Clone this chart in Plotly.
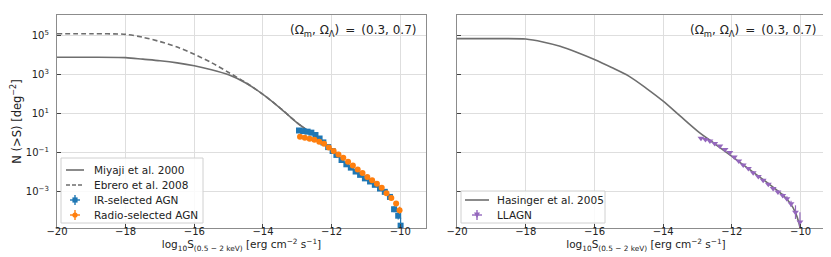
import numpy as np
import plotly.graph_objects as go

# ---------------- data (log10 values) ----------------
miyaji_x = [-20, -19, -18, -17.5, -17, -16.5, -16, -15.5, -15, -14.5, -14, -13.5, -13, -12.7]
miyaji_logN = [3.88, 3.88, 3.86, 3.78, 3.70, 3.59, 3.44, 3.24, 2.98, 2.56, 1.98, 1.28, 0.52, 0.13]

ebrero_x = [-20, -19, -18, -17.5, -17, -16.5, -16, -15.5, -15, -14.5, -14, -13.5, -13, -12.7]
ebrero_logN = [5.08, 5.08, 5.05, 4.90, 4.68, 4.40, 4.03, 3.60, 3.10, 2.58, 1.98, 1.28, 0.52, 0.13]

ir_x = [-12.95, -12.83, -12.70, -12.59, -12.47, -12.35, -12.24, -12.10, -11.97, -11.86,
        -11.71, -11.57, -11.44, -11.30, -11.17, -11.03, -10.88, -10.74, -10.59, -10.45,
        -10.30, -10.18, -10.06, -9.99]
ir_logN = [0.13, 0.10, 0.07, 0.02, -0.10, -0.28, -0.48, -0.72, -0.92, -1.12,
           -1.38, -1.60, -1.77, -1.97, -2.14, -2.32, -2.48, -2.65, -2.84, -3.01,
           -3.27, -3.90, -4.23, -4.74]
ir_err = [0.03, 0.03, 0.03, 0.03, 0.03, 0.03, 0.03, 0.04, 0.04, 0.04,
          0.05, 0.05, 0.05, 0.06, 0.06, 0.06, 0.07, 0.08, 0.08, 0.09,
          0.10, 0.15, 0.20, 0.40]

radio_x = [-12.92, -12.78, -12.64, -12.50, -12.36, -12.22, -12.08, -11.94, -11.80, -11.66,
           -11.52, -11.38, -11.24, -11.10, -10.96, -10.82, -10.68, -10.54, -10.40, -10.26,
           -10.12, -10.02]
radio_logN = [-0.19, -0.24, -0.29, -0.35, -0.44, -0.55, -0.74, -0.92, -1.10, -1.27,
              -1.47, -1.66, -1.86, -2.04, -2.25, -2.42, -2.60, -2.80, -3.08, -3.33,
              -3.60, -3.95]
radio_err = [0.03, 0.03, 0.03, 0.03, 0.03, 0.03, 0.03, 0.04, 0.04, 0.04,
             0.05, 0.05, 0.05, 0.06, 0.06, 0.07, 0.07, 0.08, 0.09, 0.10,
             0.12, 0.18]

hasinger_x = [-20, -19, -18, -17.5, -17, -16.5, -16, -15.5, -15, -14.5, -14, -13.5, -13,
              -12.5, -12, -11.5, -11, -10.5, -10.3, -10.15, -10.05, -10.0]
hasinger_logN = [4.83, 4.83, 4.81, 4.66, 4.44, 4.12, 3.76, 3.35, 2.91, 2.30, 1.63, 0.86, 0.10,
                 -0.55, -1.20, -1.85, -2.50, -3.20, -3.60, -4.07, -4.60, -5.00]

llagn_x = [-12.90, -12.77, -12.64, -12.50, -12.35, -12.20, -12.06, -11.93, -11.80, -11.67,
           -11.52, -11.38, -11.23, -11.09, -10.94, -10.80, -10.66, -10.52, -10.40, -10.28,
           -10.15, -10.02]
llagn_logN = [-0.27, -0.33, -0.41, -0.53, -0.66, -0.84, -1.00, -1.23, -1.43, -1.63,
              -1.82, -2.03, -2.23, -2.42, -2.62, -2.84, -3.02, -3.20, -3.36, -3.62,
              -4.05, -4.55]
llagn_err = [0.04, 0.04, 0.04, 0.04, 0.04, 0.05, 0.05, 0.05, 0.05, 0.06,
             0.06, 0.06, 0.07, 0.07, 0.08, 0.08, 0.09, 0.10, 0.12, 0.15,
             0.35, 0.50]

ytick_vals = [1e-3, 1e-1, 1e1, 1e3, 1e5]
ytick_text = ["10<sup>\u22123</sup>", "10<sup>\u22121</sup>", "10<sup>1</sup>", "10<sup>3</sup>", "10<sup>5</sup>"]
xtick_vals = [-20, -18, -16, -14, -12, -10]
xtick_text = ["\u221220", "\u221218", "\u221216", "\u221214", "\u221212", "\u221210"]

left_legend_names = ["Miyaji et al. 2000", "Ebrero et al. 2008", "IR-selected AGN", "Radio-selected AGN"]
right_legend_names = ["Hasinger et al. 2005", "LLAGN"]

# ---------------- helpers ----------------
def lin(v):
    return [10 ** a for a in v]

def errs(logv, e):
    up = [10 ** (a + d) - 10 ** a for a, d in zip(logv, e)]
    dn = [10 ** a - 10 ** (a - d) for a, d in zip(logv, e)]
    return up, dn

GRAY = "#6e6e6e"
BLUE = "#1f77b4"
ORANGE = "#ff7f0e"
PURPLE = "#9467bd"
FONT = "DejaVu Sans"

fig = go.Figure()

fig.add_trace(go.Scatter(x=miyaji_x, y=lin(miyaji_logN), mode="lines", line=dict(color=GRAY, width=1.6, shape="spline", smoothing=0.8),
                         name=left_legend_names[0], xaxis="x", yaxis="y", showlegend=False))
fig.add_trace(go.Scatter(x=ebrero_x, y=lin(ebrero_logN), mode="lines", line=dict(color=GRAY, width=1.6, dash="5px,3px", shape="spline", smoothing=0.8),
                         name=left_legend_names[1], xaxis="x", yaxis="y", showlegend=False))
u, d = errs(ir_logN, ir_err)
fig.add_trace(go.Scatter(x=ir_x, y=lin(ir_logN), mode="markers", marker=dict(symbol="square", size=6, color=BLUE),
                         error_y=dict(type="data", array=u, arrayminus=d, color=BLUE, thickness=1.2, width=0),
                         name=left_legend_names[2], xaxis="x", yaxis="y", showlegend=False))
u, d = errs(radio_logN, radio_err)
fig.add_trace(go.Scatter(x=radio_x, y=lin(radio_logN), mode="markers", marker=dict(symbol="circle", size=6, color=ORANGE),
                         error_y=dict(type="data", array=u, arrayminus=d, color=ORANGE, thickness=1.2, width=0),
                         name=left_legend_names[3], xaxis="x", yaxis="y", showlegend=False))

fig.add_trace(go.Scatter(x=hasinger_x, y=lin(hasinger_logN), mode="lines", line=dict(color=GRAY, width=1.6, shape="spline", smoothing=0.8),
                         name=right_legend_names[0], xaxis="x2", yaxis="y2", showlegend=False))
u, d = errs(llagn_logN, llagn_err)
fig.add_trace(go.Scatter(x=llagn_x, y=lin(llagn_logN), mode="markers", marker=dict(symbol="triangle-down", size=6, color=PURPLE),
                         error_y=dict(type="data", array=u, arrayminus=d, color=PURPLE, thickness=1.2, width=0),
                         name=right_legend_names[1], xaxis="x2", yaxis="y2", showlegend=False))

L, R, T, B = 49, 4, 7, 37
W, H = 831, 257
pw = W - L - R
ph = H - T - B
X1A, X1B = 49, 418
X2A, X2B = 449, 827
dom1 = [(X1A - L) / pw, (X1B - L) / pw]
dom2 = [(X2A - L) / pw, (X2B - L) / pw]

axis_common = dict(showline=True, linecolor="#8c8c8c", linewidth=1.2, mirror=True,
                   showgrid=True, gridcolor="#dedede", gridwidth=1,
                   ticks="inside", ticklen=4, tickcolor="#444", zeroline=False,
                   tickfont=dict(family=FONT, size=10, color="#222"))
xtitle = "log<sub>10</sub>S<sub>(0.5 \u2212 2 keV)</sub> [erg cm<sup>\u22122</sup> s<sup>\u22121</sup>]"

fig.update_layout(
    width=W, height=H, margin=dict(l=L, r=R, t=T, b=B),
    paper_bgcolor="white", plot_bgcolor="white",
    font=dict(family=FONT, size=10, color="#222"),
    showlegend=False,
    xaxis=dict(domain=dom1, range=[-20, -9.25], tickvals=xtick_vals, ticktext=xtick_text, anchor="y",
               ticklabelstandoff=-6,
               title=dict(text=xtitle, font=dict(family=FONT, size=10.5), standoff=2), **axis_common),
    xaxis2=dict(domain=dom2, range=[-20, -9.0], tickvals=xtick_vals, ticktext=xtick_text, anchor="y2",
                ticklabelstandoff=-6,
                title=dict(text=xtitle, font=dict(family=FONT, size=10.5), standoff=2), **axis_common),
    yaxis=dict(type="log", range=[-4.86, 6.04], tickvals=ytick_vals, ticktext=ytick_text, anchor="x",
               ticklabelstandoff=5,
               title=dict(text="N (>S) [deg<sup>\u22122</sup>]", font=dict(family=FONT, size=11.5), standoff=1), **axis_common),
    yaxis2=dict(type="log", range=[-4.86, 6.04], tickvals=ytick_vals, ticktext=ytick_text, anchor="x2",
                showticklabels=False, **axis_common),
)

# ---------------- legend boxes drawn as layout decorations ----------------
def dx1(p):
    return (p - X1A) / (X1B - X1A)

def dx2(p):
    return (p - X2A) / (X2B - X2A)

def dy(p):
    return (H - B - p) / ph

shapes = []
annos = []

def legend_box(xr, dxf, x0, x1, y0, y1):
    shapes.append(dict(type="rect", xref=xr + " domain", yref="y domain", x0=dxf(x0), x1=dxf(x1), y0=dy(y1), y1=dy(y0),
                       line=dict(color="#d0d0d0", width=1), fillcolor="rgba(255,255,255,0.85)", layer="above"))

def legend_line(xr, dxf, yy, x0, x1, dash=None):
    shapes.append(dict(type="line", xref=xr + " domain", yref="y domain", x0=dxf(x0), x1=dxf(x1), y0=dy(yy), y1=dy(yy),
                       line=dict(color=GRAY, width=1.6, dash=dash or "solid"), layer="above"))

def legend_marker(xr, dxf, yy, xc, color, kind):
    shapes.append(dict(type="line", xref=xr + " domain", yref="y domain", x0=dxf(xc), x1=dxf(xc), y0=dy(yy - 5), y1=dy(yy + 5),
                       line=dict(color=color, width=1.4), layer="above"))
    shapes.append(dict(type="line", xref=xr + " domain", yref="y domain", x0=dxf(xc - 5), x1=dxf(xc + 5), y0=dy(yy), y1=dy(yy),
                       line=dict(color=color, width=1.4), layer="above"))
    r = 2.6
    if kind == "square":
        shapes.append(dict(type="rect", xref=xr + " domain", yref="y domain", x0=dxf(xc - r), x1=dxf(xc + r), y0=dy(yy + r), y1=dy(yy - r),
                           line=dict(width=0), fillcolor=color, layer="above"))
    elif kind == "circle":
        shapes.append(dict(type="circle", xref=xr + " domain", yref="y domain", x0=dxf(xc - r), x1=dxf(xc + r), y0=dy(yy + r), y1=dy(yy - r),
                           line=dict(width=0), fillcolor=color, layer="above"))
    else:
        shapes.append(dict(type="path", xref=xr + " domain", yref="y domain",
                           path="M %f %f L %f %f L %f %f Z" % (dxf(xc - 3), dy(yy - 2.5), dxf(xc + 3), dy(yy - 2.5), dxf(xc), dy(yy + 3)),
                           line=dict(width=0), fillcolor=color, layer="above"))

def legend_text(xr, dxf, yy, x0, text):
    annos.append(dict(text=text, xref=xr + " domain", yref="y domain", x=dxf(x0), y=dy(yy), xanchor="left", yanchor="middle",
                      showarrow=False, font=dict(family=FONT, size=10.5, color="#222")))

# left legend
legend_box("x", dx1, 53, 195, 150, 215)
rows = [162, 177, 192, 207]
legend_line("x", dx1, rows[0], 58, 76)
legend_line("x", dx1, rows[1], 58, 76, dash="4px,2px")
legend_marker("x", dx1, rows[2], 67, BLUE, "square")
legend_marker("x", dx1, rows[3], 67, ORANGE, "circle")
for yy, name in zip(rows, left_legend_names):
    legend_text("x", dx1, yy, 84, name)

# right legend
legend_box("x2", dx2, 453, 597, 183, 215)
rows2 = [192, 207]
legend_line("x2", dx2, rows2[0], 457, 481)
legend_marker("x2", dx2, rows2[1], 469, PURPLE, "triangle")
for yy, name in zip(rows2, right_legend_names):
    legend_text("x2", dx2, yy, 487, name)

omega = "(\u03a9<sub>m</sub>, \u03a9<sub>\u039b</sub>)\u2002=\u2002(0.3, 0.7)"
annos.append(dict(text=omega, xref="x domain", yref="y domain", x=dx1(410), y=dy(23), xanchor="right", yanchor="middle",
                  showarrow=False, font=dict(family=FONT, size=12, color="#222")))
annos.append(dict(text=omega, xref="x2 domain", yref="y domain", x=dx2(810), y=dy(23), xanchor="right", yanchor="middle",
                  showarrow=False, font=dict(family=FONT, size=12, color="#222")))

fig.update_layout(shapes=shapes, annotations=annos)

fig.write_html("out.html")
